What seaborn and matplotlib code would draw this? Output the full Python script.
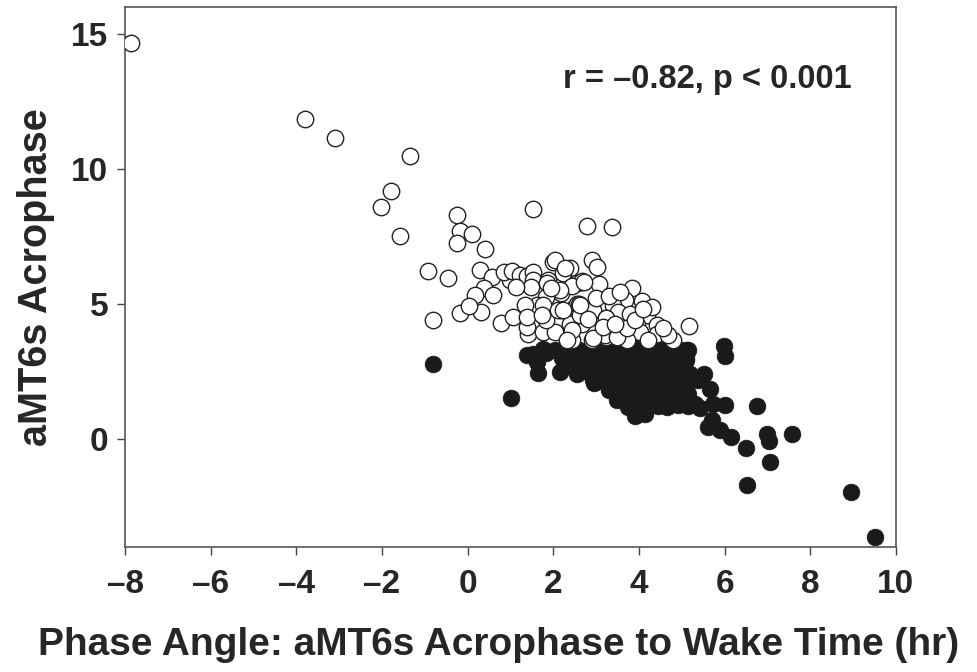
import pandas as pd
import seaborn as sns
import matplotlib.pyplot as plt

SMALL_SIZE = 24
MEDIUM_SIZE = 23.5
BIGGER_SIZE = 28.5

# open circles (acrophase later group)
open_x = [-7.87, -3.79, -3.09, -1.35, -1.80, -2.02, -1.58, -0.24, -0.19, 0.10,
          -0.26, 0.40, 1.52, -0.93, -0.45, -0.80, -0.18, 0.30, 2.79, 3.38,
          0.29, 0.58, 0.38, 0.60, 0.17, 0.03, 0.77, 1.05, 0.99, 0.85,
          1.03, 1.22, 1.38, 1.52, 1.53, 1.88, 1.49, 1.14, 2.00, 2.05,
          2.39, 2.23, 2.55, 2.19, 1.84, 1.61, 1.34, 1.77, 2.19, 2.51,
          1.42, 1.39, 1.77, 2.04, 1.84, 2.47, 1.38, 1.73, 1.86, 2.12,
          2.66, 2.55, 2.66, 2.39, 2.43, 2.91, 3.03, 2.27, 2.68, 3.07,
          2.43, 3.84, 4.06, 3.67, 2.60, 2.23, 2.93, 3.40, 3.52, 4.19,
          3.22, 3.96, 4.41, 5.18, 2.43, 2.91, 3.22, 3.56, 4.41, 4.80,
          4.02, 2.31, 3.71, 4.22, 2.62, 3.36, 3.79, 2.16, 3.21, 2.93,
          3.48, 3.71, 3.24, 2.72, 2.62, 3.00, 3.30, 3.55, 4.30, 4.68,
          4.55, 3.90, 3.15, 2.80, 1.95, 4.10, 3.45]
open_y = [14.64, 11.85, 11.13, 10.48, 9.18, 8.60, 7.51, 8.29, 7.71, 7.59,
          7.26, 7.02, 8.50, 6.21, 5.94, 4.42, 4.67, 4.69, 7.88, 7.86,
          6.25, 6.00, 5.57, 5.32, 5.32, 4.92, 4.30, 4.50, 5.88, 6.18,
          6.22, 6.06, 6.04, 6.19, 5.88, 5.88, 5.63, 5.63, 6.56, 6.62,
          6.31, 6.13, 5.76, 5.39, 5.26, 4.95, 4.95, 4.95, 4.77, 4.89,
          3.90, 4.15, 3.96, 3.96, 4.40, 4.21, 4.52, 4.58, 5.76, 4.77,
          5.82, 5.01, 4.27, 4.27, 3.65, 6.62, 6.37, 6.31, 5.85, 5.73,
          5.66, 5.57, 5.11, 5.14, 4.99, 4.77, 4.77, 4.95, 4.70, 4.58,
          4.46, 4.21, 4.21, 4.18, 4.02, 3.65, 3.78, 3.90, 3.90, 3.65,
          3.96, 3.65, 3.65, 3.65, 4.58, 4.15, 4.64, 5.50, 3.84, 3.72,
          3.78, 4.09, 4.46, 5.82, 4.95, 5.20, 5.30, 5.45, 4.90, 3.85,
          4.10, 4.40, 4.15, 4.45, 5.60, 4.80, 4.25]

# filled circles (acrophase earlier group)
fill_x = [-0.80, 1.01, 1.38, 1.53, 1.84, 1.61, 1.65, 2.16, 2.27,
          1.75, 2.05, 2.35, 2.60, 2.85, 3.10, 3.30, 3.55, 3.75, 3.95, 4.15, 4.35, 4.55, 4.75, 4.95, 5.15,
          2.20, 2.50, 2.75, 3.00, 3.20, 3.45, 3.65, 3.85, 4.05, 4.25, 4.50, 4.70, 4.90, 5.10,
          2.30, 2.65, 2.90, 3.15, 3.40, 3.60, 3.80, 4.00, 4.20, 4.40, 4.65, 4.85, 5.05,
          2.55, 2.85, 3.10, 3.35, 3.55, 3.75, 3.95, 4.15, 4.35, 4.60, 4.80, 5.00,
          2.95, 3.20, 3.45, 3.70, 3.90, 4.10, 4.30, 4.55, 4.75, 4.95,
          3.30, 3.50, 3.75, 4.00, 4.20, 4.45, 4.65, 4.90, 5.10,
          3.55, 3.80, 4.05, 4.25, 4.50, 4.75, 4.95,
          3.75, 3.95, 4.20, 4.45, 4.65, 4.90, 5.15,
          3.90, 4.15, 3.48, 3.56, 2.93,
          5.30, 5.15, 5.39, 5.19, 5.11, 5.11, 5.53, 5.67, 5.43, 5.74,
          6.02, 6.75, 5.70, 5.62, 5.89, 6.16, 6.50, 6.98, 7.04, 7.58,
          7.06, 6.52, 8.94, 9.51, 5.98, 6.01]
fill_y = [2.79, 1.53, 3.10, 3.16, 3.20, 2.85, 2.45, 2.48, 3.10,
          3.32, 3.28, 3.35, 3.30, 3.34, 3.28, 3.36, 3.31, 3.27, 3.35, 3.30, 3.33, 3.28, 3.36, 3.31, 3.29,
          2.98, 3.03, 2.96, 3.02, 2.97, 3.05, 2.99, 3.01, 2.95, 3.04, 2.98, 3.02, 2.96, 3.00,
          2.70, 2.68, 2.74, 2.66, 2.72, 2.69, 2.73, 2.67, 2.71, 2.70, 2.68, 2.74, 2.66,
          2.40, 2.43, 2.37, 2.41, 2.38, 2.44, 2.39, 2.42, 2.36, 2.41, 2.40, 2.43,
          2.08, 2.12, 2.06, 2.10, 2.13, 2.07, 2.11, 2.09, 2.12, 2.05,
          1.80, 1.77, 1.83, 1.79, 1.82, 1.78, 1.81, 1.76, 1.84,
          1.50, 1.47, 1.53, 1.49, 1.52, 1.48, 1.51,
          1.20, 1.23, 1.17, 1.22, 1.19, 1.24, 1.21,
          0.85, 0.92, 1.43, 1.55, 2.17,
          1.30, 1.68, 2.17, 2.42, 2.91, 3.28, 2.42, 1.86, 1.16, 1.31,
          1.24, 1.21, 0.69, 0.44, 0.32, 0.09, -0.33, 0.17, -0.08, 0.19,
          -0.85, -1.72, -1.97, -3.62, 3.43, 3.06]

x_ticks = [-8, -6, -4, -2, 0, 2, 4, 6, 8, 10]
y_ticks = [0, 5, 10, 15]

filled = pd.DataFrame({"phase_angle": fill_x, "acrophase": fill_y})
opened = pd.DataFrame({"phase_angle": open_x, "acrophase": open_y})

sns.set_style("ticks")
plt.rcParams["font.family"] = ["Liberation Sans", "DejaVu Sans"]
plt.rcParams["font.weight"] = "bold"

fig, ax = plt.subplots(figsize=(9.77, 6.72), dpi=100)
fig.subplots_adjust(left=0.128, right=0.917, bottom=0.186, top=0.99)

sns.scatterplot(data=filled, x="phase_angle", y="acrophase", ax=ax,
                color="#1a1a1a", edgecolor="#1a1a1a", linewidth=0.5, s=145,
                zorder=2)
sns.scatterplot(data=opened, x="phase_angle", y="acrophase", ax=ax,
                color="white", edgecolor="#222222", linewidth=1.0, s=140,
                zorder=3)

ax.set_xlim(-8, 10)
ax.set_ylim(-4, 16)
ax.set_xticks(x_ticks)
ax.set_yticks(y_ticks)
ax.set_xticklabels(["\u2013" + str(-t) if t < 0 else str(t) for t in x_ticks])
ax.tick_params(axis="both", labelsize=SMALL_SIZE, length=6, width=1,
               color="#444444", direction="out")
ax.tick_params(axis="x", pad=10)
ax.tick_params(axis="y", pad=6)
for lab in ax.get_xticklabels() + ax.get_yticklabels():
    lab.set_fontweight("bold")
for sp in ax.spines.values():
    sp.set_color("#555555")
    sp.set_linewidth(1.2)

ax.set_xlabel("Phase Angle: aMT6s Acrophase to Wake Time (hr)",
              fontsize=BIGGER_SIZE - 0.5, fontweight="bold")
ax.xaxis.set_label_coords(0.484, -0.148)
ax.set_ylabel("aMT6s Acrophase", fontsize=BIGGER_SIZE, fontweight="bold",
              labelpad=12)
ax.text(5.6, 13.3, "r = \u20130.82, p < 0.001", fontsize=MEDIUM_SIZE,
        fontweight="bold", ha="center", va="center")

plt.savefig("out.png", dpi=100)
